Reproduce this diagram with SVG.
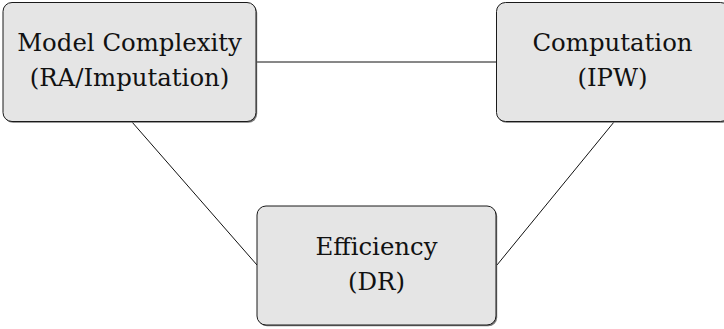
<svg xmlns="http://www.w3.org/2000/svg" width="724" height="329" viewBox="0 0 724 329">
  <style>
    .shadow { fill: #7a7a7a; }
    .box { fill: #e5e5e5; stroke: #1a1a1a; stroke-width: 1; }
    .label { font-family: "DejaVu Serif", serif; font-size: 24.4px; fill: #111; text-anchor: middle; }
    .edge { stroke: #111; stroke-width: 1; fill: none; }
  </style>
  <rect width="724" height="329" fill="#ffffff"/>
  <g id="connectors">
    <line class="edge" x1="256" y1="62" x2="497" y2="62"/>
    <line class="edge" x1="132" y1="122" x2="257" y2="265"/>
    <line class="edge" x1="614" y1="122" x2="497" y2="265"/>
  </g>
  <g id="node-model-complexity">
    <rect class="shadow" x="4.2" y="3.8" width="253" height="119" rx="9"/>
    <rect class="box" x="3" y="2.5" width="253" height="119" rx="9"/>
    <text class="label" x="129.5" y="51">Model Complexity</text>
    <text class="label" x="129.5" y="86">(RA/Imputation)</text>
  </g>
  <g id="node-computation">
    <rect class="shadow" x="497.7" y="3.8" width="233" height="119" rx="9"/>
    <rect class="box" x="496.5" y="2.5" width="233" height="119" rx="9"/>
    <text class="label" x="612.5" y="51">Computation</text>
    <text class="label" x="612.5" y="86">(IPW)</text>
  </g>
  <g id="node-efficiency">
    <rect class="shadow" x="258.2" y="207.3" width="239" height="119" rx="9"/>
    <rect class="box" x="257" y="206" width="239" height="119" rx="9"/>
    <text class="label" x="376.5" y="254.5">Efficiency</text>
    <text class="label" x="376.5" y="289.5">(DR)</text>
  </g>
</svg>
